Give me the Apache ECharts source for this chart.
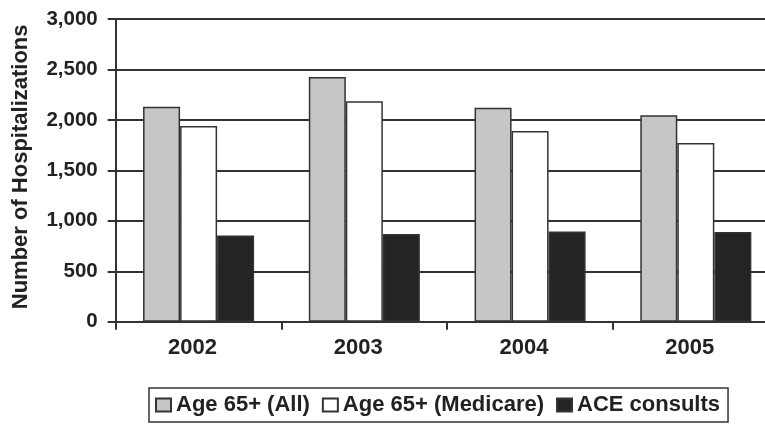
<!DOCTYPE html>
<html>
<head>
<meta charset="utf-8">
<script src="https://cdn.jsdelivr.net/npm/echarts@6/dist/echarts.min.js"></script>
<style>
  html, body { margin: 0; padding: 0; background: #fff; }
  #chart { width: 765px; height: 426px; }
</style>
</head>
<body>
<div id="chart"></div>
<script>
// Hospitalizations per year, by population group
const years = ['2002', '2003', '2004', '2005'];
const age65All = [2130, 2425, 2120, 2045];
const age65Medicare = [1940, 2185, 1890, 1770];
const aceConsults = [855, 870, 895, 890];
const seriesNames = ['Age 65+ (All)', 'Age 65+ (Medicare)', 'ACE consults'];
const yTicks = { min: 0, max: 3000, interval: 500 };

const FONT = '"Liberation Sans", Arial, Helvetica, sans-serif';
const INK = '#222';
const EDGE = '#333';

function barSeries(name, data, fill) {
  return {
    name: name,
    type: 'bar',
    data: data,
    barGap: '0%',
    barCategoryGap: '33%',
    itemStyle: { color: fill, borderColor: EDGE, borderWidth: 1.5 },
    emphasis: { disabled: true }
  };
}

const chart = echarts.init(document.getElementById('chart'), null, { renderer: 'canvas' });
chart.setOption({
  animation: false,
  backgroundColor: '#fff',
  // plot area runs past the right edge of the canvas
  grid: {
    left: 115.7, width: 663, top: 19, bottom: 104.3,
    containLabel: false, outerBoundsMode: 'none'
  },
  legend: {
    left: 149,
    top: 388,
    padding: [6, 8, 6, 6],
    itemGap: 12,
    itemWidth: 15,
    itemHeight: 13,
    borderColor: EDGE,
    borderWidth: 1.5,
    icon: 'rect',
    data: seriesNames,
    textStyle: { fontFamily: FONT, fontSize: 22, fontWeight: 'bold', color: INK }
  },
  xAxis: {
    type: 'category',
    data: years,
    axisLine: { lineStyle: { color: EDGE, width: 2 } },
    axisTick: { show: true, length: 8, lineStyle: { color: EDGE, width: 2 } },
    axisLabel: {
      margin: 15,
      padding: [0, 12, 0, 0],
      fontFamily: FONT, fontSize: 22, fontWeight: 'bold', color: INK
    }
  },
  yAxis: {
    type: 'value',
    min: yTicks.min,
    max: yTicks.max,
    interval: yTicks.interval,
    name: 'Number of Hospitalizations',
    nameLocation: 'middle',
    nameGap: 84,
    nameTextStyle: {
      fontFamily: FONT, fontSize: 22, fontWeight: 'bold', color: INK,
      padding: [0, 0, 0, 7]
    },
    axisLine: { show: true, lineStyle: { color: EDGE, width: 2 } },
    axisTick: { show: true, length: 8, lineStyle: { color: EDGE, width: 2 } },
    axisLabel: {
      margin: 18,
      formatter: v => v.toLocaleString('en-US'),
      fontFamily: FONT, fontSize: 20.5, fontWeight: 'bold', color: INK
    },
    splitLine: { show: true, lineStyle: { color: EDGE, width: 2 } }
  },
  series: [
    barSeries(seriesNames[0], age65All, '#c6c6c6'),
    barSeries(seriesNames[1], age65Medicare, '#ffffff'),
    barSeries(seriesNames[2], aceConsults, '#242424')
  ]
});
</script>
</body>
</html>
